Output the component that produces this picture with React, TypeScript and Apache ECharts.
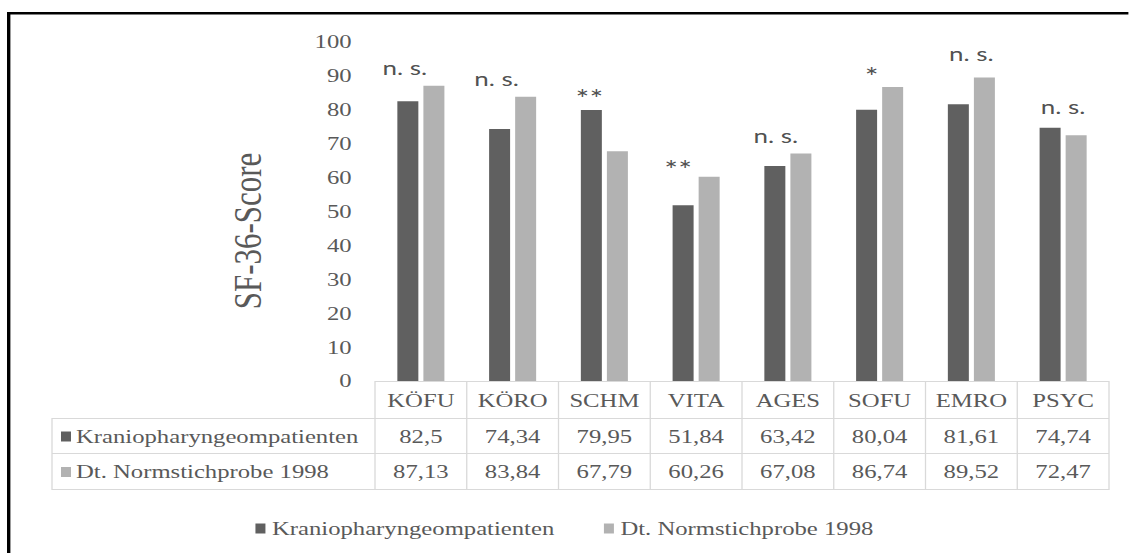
import React, { useEffect, useRef } from 'react';
import * as echarts from 'echarts';

// ---- data ----
const categories = ['KÖFU', 'KÖRO', 'SCHM', 'VITA', 'AGES', 'SOFU', 'EMRO', 'PSYC'];
const seriesNames = ['Kraniopharyngeompatienten', 'Dt. Normstichprobe 1998'];
const patients = [82.5, 74.34, 79.95, 51.84, 63.42, 80.04, 81.61, 74.74];
const norm = [87.13, 83.84, 67.79, 60.26, 67.08, 86.74, 89.52, 72.47];
const annotations = ['n. s.', 'n. s.', '**', '**', 'n. s.', '*', 'n. s.', 'n. s.'];
const annotationLevels = [92.6, 89.3, 83.6, 62.6, 72.5, 89.8, 96.7, 81];
const yTitle = 'SF-36-Score';

// ---- layout (the reference is horizontally stretched) ----
const STRETCH = 1.3;
const WIDTH = 1129;
const HEIGHT = 553;
const W = WIDTH / STRETCH;
const GRID_LEFT = 375 / STRETCH;
const GRID_RIGHT_EDGE = 1109 / STRETCH;
const GRID_TOP = 42;
const GRID_BOTTOM_Y = 381;
const annotationOffsets = [-16, -16, -15, -18, -12, -8, 0, 0].map((d) => d / STRETCH);

const SERIF = 'Liberation Serif';
const SANS = 'Lato';
const TEXT = '#595959';
const LINE = '#d9d9d9';
const COLORS = ['#606060', '#b2b2b2'];

const fmt = (v: number) => String(v).replace('.', ',');

export default function App() {
  const ref = useRef<HTMLDivElement>(null);
  useEffect(() => {
    const chart = echarts.init(ref.current!, null, { renderer: 'svg', width: W, height: HEIGHT });
    const colW = (GRID_RIGHT_EDGE - GRID_LEFT) / categories.length;
    const tableLeft = 52 / STRETCH;
    const rowY = [GRID_BOTTOM_Y, 418, 453, 489];
    const graphics: any[] = [];
    const line = (x1: number, y1: number, x2: number, y2: number) =>
      graphics.push({ type: 'line', silent: true, shape: { x1, y1, x2, y2 }, style: { stroke: LINE, lineWidth: 1 } });
    // horizontal lines
    line(GRID_LEFT, rowY[0] + 0.5, GRID_RIGHT_EDGE, rowY[0] + 0.5);
    for (let r = 1; r < rowY.length; r++) line(tableLeft, rowY[r] + 0.5, GRID_RIGHT_EDGE, rowY[r] + 0.5);
    // vertical lines
    line(tableLeft, rowY[1], tableLeft, rowY[3] + 1);
    for (let i = 0; i <= categories.length; i++) {
      const x = GRID_LEFT + i * colW;
      line(x, rowY[0], x, rowY[3] + 1);
    }
    const txt = (text: string, x: number, y: number, align: string) =>
      graphics.push({
        type: 'text', silent: true, x, y,
        style: { text, fill: TEXT, fontFamily: SERIF, fontSize: 19, align, verticalAlign: 'middle' },
      });
    categories.forEach((c, i) => {
      const cx = GRID_LEFT + (i + 0.5) * colW;
      txt(c, cx, (rowY[0] + rowY[1]) / 2 + 1, 'center');
      txt(fmt(patients[i]), cx, (rowY[1] + rowY[2]) / 2 + 1, 'center');
      txt(fmt(norm[i]), cx, (rowY[2] + rowY[3]) / 2 + 1, 'center');
    });
    [0, 1].forEach((s) => {
      const cy = (rowY[s + 1] + rowY[s + 2]) / 2 + 1;
      graphics.push({ type: 'rect', silent: true, shape: { x: 61 / STRETCH, y: cy - 5, width: 10 / STRETCH, height: 10 }, style: { fill: COLORS[s] } });
      txt(seriesNames[s], 76 / STRETCH, cy, 'left');
    });
    // axis title
    graphics.push({
      type: 'text', silent: true, x: 248 / STRETCH, y: 231, rotation: Math.PI / 2,
      style: { text: yTitle, fill: TEXT, fontFamily: SERIF, fontSize: 31, align: 'center', verticalAlign: 'middle' },
    });
    // frame
    graphics.push({
      type: 'rect', silent: true, shape: { x: 8.7 / STRETCH, y: 13.3, width: 2000, height: 2000 },
      style: { fill: 'none', stroke: '#000', lineWidth: 2.6 },
    });

    chart.setOption({
      animation: false,
      backgroundColor: '#fff',
      grid: { left: GRID_LEFT, right: W - GRID_RIGHT_EDGE, top: GRID_TOP, bottom: HEIGHT - GRID_BOTTOM_Y, containLabel: false },
      legend: {
        data: seriesNames,
        top: 514,
        left: 'center',
        icon: 'rect',
        itemWidth: 10 / STRETCH,
        itemHeight: 10,
        itemGap: 38,
        textStyle: { fontFamily: SERIF, fontSize: 19, color: TEXT },
      },
      xAxis: {
        type: 'category',
        data: categories,
        axisLine: { show: false },
        axisTick: { show: false },
        axisLabel: { show: false },
      },
      yAxis: {
        type: 'value',
        min: 0,
        max: 100,
        interval: 10,
        axisLine: { show: false },
        axisTick: { show: false },
        splitLine: { show: false },
        axisLabel: { fontFamily: SERIF, fontSize: 19, color: TEXT, margin: 18 },
      },
      series: [
        { name: seriesNames[0], type: 'bar', data: patients, barWidth: 21 / STRETCH, barGap: '24%', itemStyle: { color: COLORS[0] } },
        { name: seriesNames[1], type: 'bar', data: norm, barWidth: 21 / STRETCH, barGap: '24%', itemStyle: { color: COLORS[1] } },
        {
          name: 'annotations',
          type: 'scatter',
          silent: true,
          symbolSize: 1,
          itemStyle: { color: 'transparent' },
          data: annotationLevels.map((v, i) => ({
            value: [i, v],
            label: {
              offset: [annotationOffsets[i], 0],
              fontSize: annotations[i].includes('*') ? 25 : 20,
            },
          })),
          label: {
            show: true,
            position: 'inside',
            formatter: (p: any) => annotations[p.dataIndex],
            fontFamily: SANS,
            fontSize: 20,
            color: '#222222',
          },
          z: 5,
        },
      ],
      graphic: graphics,
    });
    return () => chart.dispose();
  }, []);
  return (
    <div style={{ position: 'fixed', left: 0, top: 0, width: WIDTH, height: HEIGHT, overflow: 'hidden', background: '#fff' }}>
      <div ref={ref} style={{ width: W, height: HEIGHT, transform: `scaleX(${STRETCH})`, transformOrigin: '0 0' }} />
    </div>
  );
}
